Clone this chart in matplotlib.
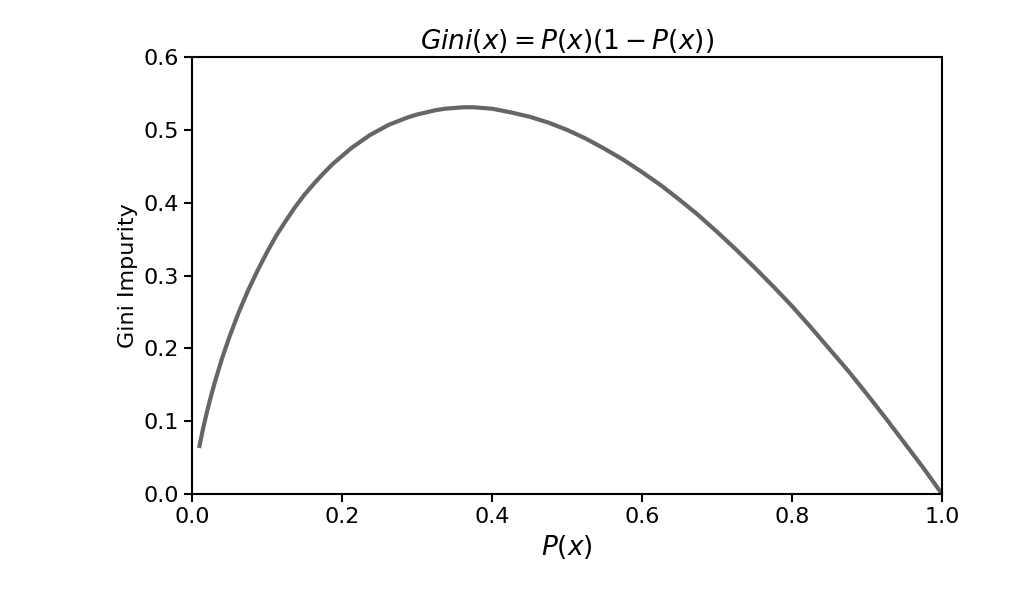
import matplotlib
matplotlib.use("Agg")
import matplotlib.pyplot as plt

# values
p_x = [0.01, 0.015, 0.02, 0.025, 0.03, 0.04, 0.05, 0.0625, 0.075, 0.0875,
       0.1, 0.1125, 0.125, 0.1375, 0.15, 0.1625, 0.175, 0.1875, 0.2, 0.2125,
       0.225, 0.2375, 0.25, 0.2625, 0.275, 0.2875, 0.3, 0.3125, 0.325, 0.3375,
       0.35, 0.3625, 0.375, 0.3875, 0.4, 0.425, 0.45, 0.475, 0.5, 0.525,
       0.55, 0.575, 0.6, 0.625, 0.65, 0.675, 0.7, 0.725, 0.75, 0.775, 0.8,
       0.825, 0.85, 0.875, 0.9, 0.925, 0.95, 0.975, 1.0]
gini = [0.066, 0.091, 0.113, 0.133, 0.152, 0.186, 0.216, 0.250, 0.280, 0.307,
        0.332, 0.355, 0.375, 0.394, 0.411, 0.426, 0.440, 0.453, 0.464, 0.475,
        0.484, 0.493, 0.500, 0.507, 0.512, 0.517, 0.521, 0.524, 0.527, 0.529,
        0.530, 0.531, 0.531, 0.530, 0.529, 0.524, 0.518, 0.510, 0.500, 0.488,
        0.474, 0.459, 0.442, 0.424, 0.404, 0.383, 0.360, 0.336, 0.311, 0.285,
        0.258, 0.229, 0.199, 0.169, 0.137, 0.104, 0.070, 0.036, 0.0]

fig = plt.figure(figsize=(10.36, 5.9), dpi=100)
ax = fig.add_axes([192 / 1036, 96 / 590, 750 / 1036, 437 / 590])

ax.plot(p_x, gini, color="#666666", linewidth=3)
ax.set_xlim(0, 1)
ax.set_ylim(0, 0.6)
ax.set_xticks([0.0, 0.2, 0.4, 0.6, 0.8, 1.0])
ax.set_yticks([0.0, 0.1, 0.2, 0.3, 0.4, 0.5, 0.6])
ax.tick_params(labelsize=16, width=1.5, length=6)
for s in ax.spines.values():
    s.set_linewidth(1.5)

ax.set_xlabel(r"$P(x)$", fontsize=19)
ax.set_ylabel("Gini Impurity", fontsize=16)
ax.set_title(r"$Gini(x) = P(x)(1-P(x))$", fontsize=19)

fig.savefig("out.png", dpi=100)
